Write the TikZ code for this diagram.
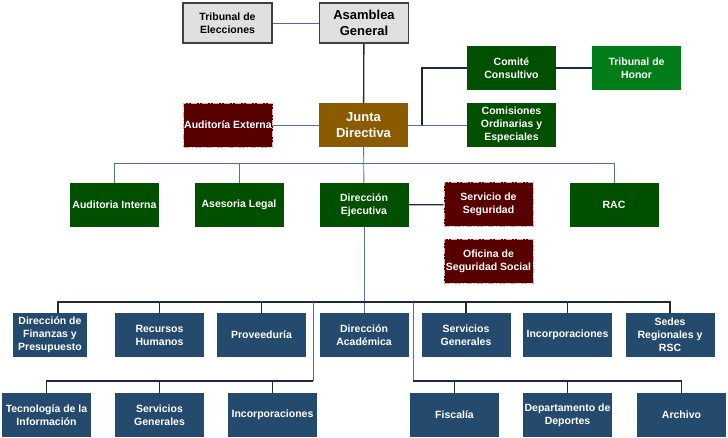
\documentclass[tikz,border=0pt]{standalone}
\usepackage{fontspec}
\setmainfont{Liberation Sans}
\usetikzlibrary{positioning}
\definecolor{greyfill}{RGB}{224,224,224}
\definecolor{greyline}{RGB}{64,64,64}
\definecolor{junta}{RGB}{138,91,0}
\definecolor{darkred}{RGB}{88,0,0}
\definecolor{redline}{RGB}{214,176,176}
\definecolor{darkgreen}{RGB}{0,80,0}
\definecolor{litegreen}{RGB}{0,125,25}
\definecolor{unitblue}{RGB}{36,74,110}
\definecolor{navy}{RGB}{28,40,68}
\definecolor{slate}{RGB}{84,110,150}
\tikzset{
  orgnode/.style = {shape=rectangle, align=center, inner sep=0pt,
                    minimum width=89pt, minimum height=44pt,
                    text=white, font=\bfseries\fontsize{10.5}{13}\selectfont},
  top/.style     = {orgnode, fill=greyfill, draw=greyline, line width=1.6pt,
                    text=black, minimum height=40pt},
  big/.style     = {font=\bfseries\fontsize{13}{15.5}\selectfont},
  board/.style   = {orgnode, big, fill=junta},
  extern/.style  = {orgnode, fill=darkred, draw=redline, line width=0.8pt,
                    dash pattern=on 6pt off 2pt on 1pt off 2pt},
  council/.style = {orgnode, fill=darkgreen},
  honor/.style   = {orgnode, fill=litegreen},
  unit/.style    = {orgnode, fill=unitblue},
  link/.style    = {draw=navy, line width=1.3pt},
  thinlink/.style= {draw=slate, line width=0.9pt}
}
\begin{document}
\begin{tikzpicture}[x=1pt, y=-1pt]
  \useasboundingbox (0,0) rectangle (728,438);

  % top level
  \node [top] (TE) at (227.5,23) {Tribunal de\\Elecciones};
  \node [top, big] (AG) at (364,23) {Asamblea\\General};
  \node [board] (JD) at (363.5,125) {Junta\\Directiva};
  \node [extern] (AE) at (228,125) {Auditoría Externa};
  \node [council] (CC) at (511.5,68) {Comité\\Consultivo};
  \node [honor] (TH) at (636.5,68) {Tribunal de\\Honor};
  \node [council] (CO) at (511.5,125) {Comisiones\\Ordinarias y\\Especiales};

  % second level
  \node [council] (AI) at (114.5,205) {Auditoria Interna};
  \node [council] (AL) at (239,205) {Asesoria Legal};
  \node [council] (DE) at (364,205) {Dirección\\Ejecutiva};
  \node [extern] (SS) at (488.5,204.5) {Servicio de\\Seguridad};
  \node [extern] (OS) at (488.5,261.5) {Oficina de\\Seguridad Social};
  \node [council] (RAC) at (614,205) {RAC};

  % third level
  \node [unit, minimum width=74pt] (DF) at (50,335) {Dirección de\\Finanzas y\\Presupuesto};
  \node [unit] (RH) at (159.5,335) {Recursos\\Humanos};
  \node [unit] (PV) at (261.5,335) {Proveeduría};
  \node [unit] (DA) at (364,335) {Dirección\\Académica};
  \node [unit] (SG) at (466,335) {Servicios\\Generales};
  \node [unit] (IN) at (567.5,335) {Incorporaciones};
  \node [unit] (SR) at (670,335) {Sedes\\Regionales y\\RSC};

  % fourth level
  \node [unit] (TI) at (46.5,415) {Tecnología de la\\Información};
  \node [unit] (SG2) at (159.5,415) {Servicios\\Generales};
  \node [unit] (IN2) at (272.5,415) {Incorporaciones};
  \node [unit] (FI) at (454.5,415) {Fiscalía};
  \node [unit] (DD) at (567.5,415) {Departamento de\\Deportes};
  \node [unit] (AR) at (681.5,415) {Archivo};

  \coordinate (jr) at (422,125);
  \coordinate (b2) at (364,163);
  \coordinate (b3) at (364,302);
  \coordinate (b4l) at (313,302);
  \coordinate (k4l) at (313,381);
  \coordinate (b4r) at (413,302);
  \coordinate (k4r) at (413,381);

  \draw [thinlink] (TE) -- (AG);
  \draw [link] (AG) -- (JD);
  \draw [thinlink] (AE) -- (JD);
  \draw [thinlink] (JD) -- (CO);
  \draw [link] (jr) |- (CC);
  \draw [link] (CC) -- (TH);
  \draw [thinlink] (JD) -- (DE);
  \foreach \n in {AI, AL, RAC}
    \draw [thinlink] (b2) -| (\n);
  \draw [link] (DE) -- (SS);
  \draw [thinlink] (DE) -- (DA);
  \draw [link] (b3) -| ([xshift=8pt]DF.north);
  \foreach \n in {RH, PV, SG, IN, SR}
    \draw [link] (b3) -| (\n);
  \draw [thinlink] (b4l) -- (k4l);
  \draw [thinlink] (b4r) -- (k4r);
  \foreach \n in {TI, SG2, IN2}
    \draw [link] (k4l) -| (\n);
  \foreach \n in {FI, DD, AR}
    \draw [link] (k4r) -| (\n);
\end{tikzpicture}
\end{document}
